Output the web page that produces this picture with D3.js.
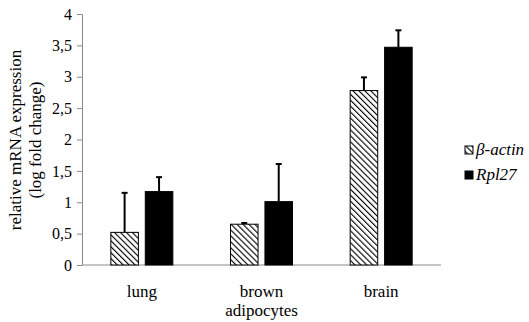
<!DOCTYPE html>
<html>
<head>
<meta charset="utf-8">
<script src="https://cdn.jsdelivr.net/npm/d3@7"></script>
</head>
<body style="margin:0">
<script>
var width = 529
var height = 322

var categories = ["lung", "brown\nadipocytes", "brain"]
var series = ["β-actin", "Rpl27"]
var actinValues = [0.52, 0.65, 2.78]
var actinErrors = [0.63, 0.02, 0.21]
var rplValues = [1.17, 1.01, 3.47]
var rplErrors = [0.23, 0.6, 0.27]
var yTicks = [0, 0.5, 1, 1.5, 2, 2.5, 3, 3.5, 4]

var serif = "'Liberation Serif', 'Times New Roman', serif"
var margin = {left: 82, right: 88, top: 14, bottom: 57}

var svg = d3.select("body").append("svg")
    .attr("width", width)
    .attr("height", height)
    .attr("font-family", serif)

svg.append("rect").attr("width", width).attr("height", height).attr("fill", "#fff")

var defs = svg.append("defs")
var pat = defs.append("pattern")
    .attr("id", "hatch")
    .attr("patternUnits", "userSpaceOnUse")
    .attr("width", 4.2)
    .attr("height", 4.2)
    .attr("patternTransform", "rotate(-45)")
pat.append("rect").attr("width", 4.2).attr("height", 4.2).attr("fill", "#fff")
pat.append("line")
    .attr("x1", 0).attr("y1", 0).attr("x2", 0).attr("y2", 4.2)
    .attr("stroke", "#000").attr("stroke-width", 2.2)

var x = d3.scaleBand()
    .domain(categories)
    .range([margin.left, width - margin.right])

var x1 = d3.scaleBand()
    .domain(series)
    .range([-31, 31])
    .paddingInner(0.2)

var y = d3.scaleLinear()
    .domain([0, 4])
    .range([height - margin.bottom, margin.top])

var data = []
categories.forEach(function(c, i) {
  data.push({cat: c, s: series[0], v: actinValues[i], e: actinErrors[i], fill: "url(#hatch)"})
  data.push({cat: c, s: series[1], v: rplValues[i], e: rplErrors[i], fill: "#000"})
})

// y axis, ticks on the left
var yAxis = svg.append("g")
    .attr("transform", "translate(" + margin.left + ",0)")
    .call(d3.axisLeft(y).tickValues(yTicks).tickSize(5)
      .tickFormat(function(d){ return String(d).replace(".", ",") }))
yAxis.attr("font-family", serif).attr("font-size", 16)
yAxis.select(".domain").attr("stroke", "#8a8a8a")
yAxis.selectAll(".tick line").attr("stroke", "#8a8a8a")
yAxis.selectAll(".tick text")
    .attr("x", -10)
    .attr("fill", "#000")
    .attr("font-family", serif)
    .attr("font-size", 16)

svg.append("line")
    .attr("x1", margin.left).attr("x2", width - margin.right)
    .attr("y1", y(0)).attr("y2", y(0))
    .attr("stroke", "#8a8a8a")

// error bars (upper only)
var cx = function(d){ return x(d.cat) + x.bandwidth() / 2 + x1(d.s) + x1.bandwidth() / 2 }
var err = svg.append("g")
err.selectAll("line.v").data(data).enter().append("line")
    .attr("x1", cx).attr("x2", cx)
    .attr("y1", function(d){ return y(d.v) })
    .attr("y2", function(d){ return y(d.v + d.e) })
    .attr("stroke", "#000").attr("stroke-width", 2)
err.selectAll("line.c").data(data).enter().append("line")
    .attr("x1", function(d){ return cx(d) - 3 }).attr("x2", function(d){ return cx(d) + 3 })
    .attr("y1", function(d){ return y(d.v + d.e) })
    .attr("y2", function(d){ return y(d.v + d.e) })
    .attr("stroke", "#000").attr("stroke-width", 2)

// bars
svg.append("g").selectAll("rect").data(data).enter().append("rect")
    .attr("x", function(d){ return x(d.cat) + x.bandwidth() / 2 + x1(d.s) })
    .attr("width", x1.bandwidth())
    .attr("y", function(d){ return y(d.v) })
    .attr("height", function(d){ return y(0) - y(d.v) })
    .attr("fill", function(d){ return d.fill })
    .attr("stroke", "#000")
    .attr("stroke-width", 1)

// category labels
categories.forEach(function(c) {
  c.split("\n").forEach(function(l, k) {
    svg.append("text")
        .attr("font-family", serif)
        .attr("font-size", 17)
        .attr("text-anchor", "middle")
        .attr("x", x(c) + x.bandwidth() / 2)
        .attr("y", 297 + k * 19)
        .text(l)
  })
})

// y label, two lines
var ylab = ["relative mRNA expression", "(log fold change)"]
ylab.forEach(function(l, k) {
  svg.append("text")
      .attr("transform", "translate(" + (21 + k * 20) + ",140) rotate(-90)")
      .attr("font-family", serif)
      .attr("font-size", 17)
      .attr("text-anchor", "middle")
      .text(l)
})

// legend
var legend = svg.append("g").attr("transform", "translate(465,146)")
series.forEach(function(s, i) {
  var g = legend.append("g").attr("transform", "translate(0," + i * 25 + ")")
  g.append("rect")
      .attr("width", 8).attr("height", 8)
      .attr("fill", i === 0 ? "url(#hatch)" : "#000")
      .attr("stroke", "#000")
  g.append("text")
      .attr("x", 11).attr("y", 9)
      .attr("font-family", serif)
      .attr("font-size", 17)
      .attr("font-style", "italic")
      .text(s)
})
</script>
</body>
</html>
